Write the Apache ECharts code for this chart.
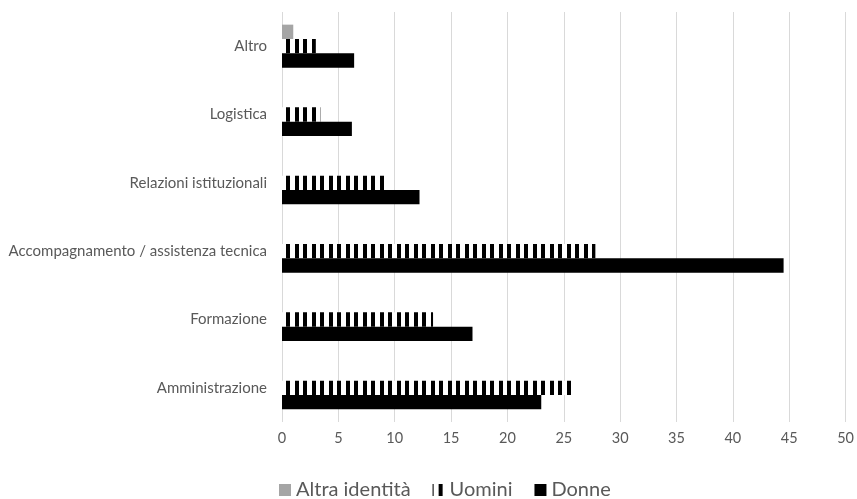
<!DOCTYPE html>
<html>
<head>
<meta charset="utf-8">
<script src="https://cdn.jsdelivr.net/npm/echarts@6/dist/echarts.min.js"></script>
<style>
html,body{margin:0;padding:0;background:#fff;}
#c{width:857px;height:499px;}
</style>
</head>
<body>
<div id="c"></div>
<script>
const categories = ['Amministrazione','Formazione','Accompagnamento / assistenza tecnica','Relazioni istituzionali','Logistica','Altro'];
const donne = [23.0, 16.9, 44.5, 12.2, 6.2, 6.4];
const uomini = [25.9, 13.4, 27.8, 9.4, 3.4, 3.0];
const altraIdentita = [0, 0, 0, 0, 0, 1.0];
const xTicks = [0, 5, 10, 15, 20, 25, 30, 35, 40, 45, 50];

const pat = document.createElement('canvas');
pat.width = 17; pat.height = 20;
const pc = pat.getContext('2d');
pc.fillStyle = '#ffffff'; pc.fillRect(0,0,17,20);
pc.fillStyle = '#000000';
pc.fillRect(14,0,3,20);
pc.fillRect(0,0,1,20);
pc.fillRect(6,0,4,20);

const chart = echarts.init(document.getElementById('c'), null, {renderer:'canvas'});
const font = 'Lato, "Open Sans", sans-serif';
chart.setOption({
  animation: false,
  backgroundColor: '#ffffff',
  textStyle: {fontFamily: font},
  grid: {left: 282, right: 9, top: 12, bottom: 77, containLabel: false},
  legend: {
    data: ['Altra identità','Uomini','Donne'],
    left: 279, top: 480, padding: 0,
    itemWidth: 12, itemHeight: 12, itemGap: 22,
    icon: 'rect',
    textStyle: {color:'#595959', fontSize: 20, fontFamily: font}
  },
  xAxis: {
    type: 'value', min: xTicks[0], max: xTicks[xTicks.length-1], interval: 5,
    axisLine: {show:false}, axisTick: {show:false},
    splitLine: {show:true, lineStyle:{color:'#d9d9d9', width:1}},
    axisLabel: {color:'#595959', fontSize: 14.5, margin: 9, fontFamily: font}
  },
  yAxis: {
    type: 'category', data: categories,
    axisLine: {show:false}, axisTick: {show:false},
    axisLabel: {color:'#595959', fontSize: 15, margin: 15, fontFamily: font}
  },
  series: [
    {name:'Altra identità', type:'bar', data: altraIdentita, barGap: 0, barCategoryGap: '37%', itemStyle:{color:'#a5a5a5'}},
    {name:'Uomini', type:'bar', data: uomini, barGap: 0, barCategoryGap: '37%', itemStyle:{color:{image: pat, repeat:'repeat'}}},
    {name:'Donne', type:'bar', data: donne, barGap: 0, barCategoryGap: '37%', itemStyle:{color:'#000000'}}
  ]
});
</script>
</body>
</html>
